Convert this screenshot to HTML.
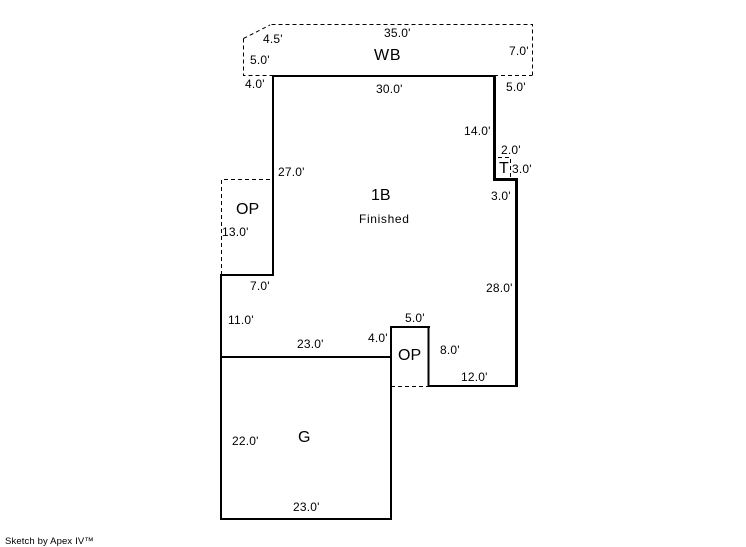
<!DOCTYPE html>
<html>
<head>
<meta charset="utf-8">
<style>
html,body{margin:0;padding:0;background:#fff;width:746px;height:547px;overflow:hidden}
svg{display:block}
text{font-family:"Liberation Sans",sans-serif;font-size:12px;fill:#000;letter-spacing:.2px}
.b{font-size:16px;letter-spacing:0}
.f{letter-spacing:.65px}
.s{font-size:9.5px;letter-spacing:.13px}
</style>
</head>
<body>
<svg width="746" height="547" viewBox="0 0 746 547">
<g fill="none" stroke="#000" stroke-width="1" stroke-dasharray="4 3" shape-rendering="crispEdges">
<path d="M273.5 75.5H243.5V38.5"/>
<path d="M532.5 75.5V24.5H270"/>
<path d="M494 75.5H532"/>
<path d="M221.5 275V179.5H273"/>
<path d="M391 386.5H428"/>
<path d="M498 157.5H510.5V179"/>
</g>
<path d="M243.5 38.5L270 25" fill="none" stroke="#000" stroke-width="1" stroke-dasharray="4 3"/>
<g fill="none" stroke="#000" stroke-width="2" shape-rendering="crispEdges">
<path d="M272 76H494"/>
<path d="M273 75V276"/>
<path d="M220 275H274"/>
<path d="M494.5 75V180" stroke-width="3"/>
<path d="M493 179.5H518" stroke-width="3"/>
<path d="M516.5 178V387" stroke-width="3"/>
<path d="M428 386H518"/>
<path d="M428.5 326V387"/>
<path d="M390 327H430"/>
<path d="M391 326V520"/>
<path d="M221 274V520"/>
<path d="M220 519H392"/>
<path d="M220 357H391"/>
</g>
<text x="384" y="37">35.0'</text>
<text x="263" y="43">4.5'</text>
<text x="250" y="64">5.0'</text>
<text x="245" y="88">4.0'</text>
<text x="509" y="55">7.0'</text>
<text x="506" y="91">5.0'</text>
<text x="376" y="93">30.0'</text>
<text x="464" y="135">14.0'</text>
<text x="501" y="154">2.0'</text>
<text x="512" y="173">3.0'</text>
<text x="491" y="200">3.0'</text>
<text x="278" y="176">27.0'</text>
<text x="222" y="236">13.0'</text>
<text x="250" y="290">7.0'</text>
<text x="228" y="324">11.0'</text>
<text x="297" y="348">23.0'</text>
<text x="368" y="342">4.0'</text>
<text x="405" y="322">5.0'</text>
<text x="440" y="354">8.0'</text>
<text x="461" y="381">12.0'</text>
<text x="486" y="292">28.0'</text>
<text x="232" y="445">22.0'</text>
<text x="293" y="511">23.0'</text>
<text class="f" x="359" y="223">Finished</text>
<text class="b" x="374" y="60" style="letter-spacing:.8px">WB</text>
<text class="b" x="371" y="200">1B</text>
<text class="b" x="236" y="214">OP</text>
<text class="b" x="398" y="360">OP</text>
<text class="b" x="298" y="442">G</text>
<text class="b" x="499" y="173">T</text>
<text class="s" x="5" y="544">Sketch by Apex IV™</text>
</svg>
</body>
</html>
